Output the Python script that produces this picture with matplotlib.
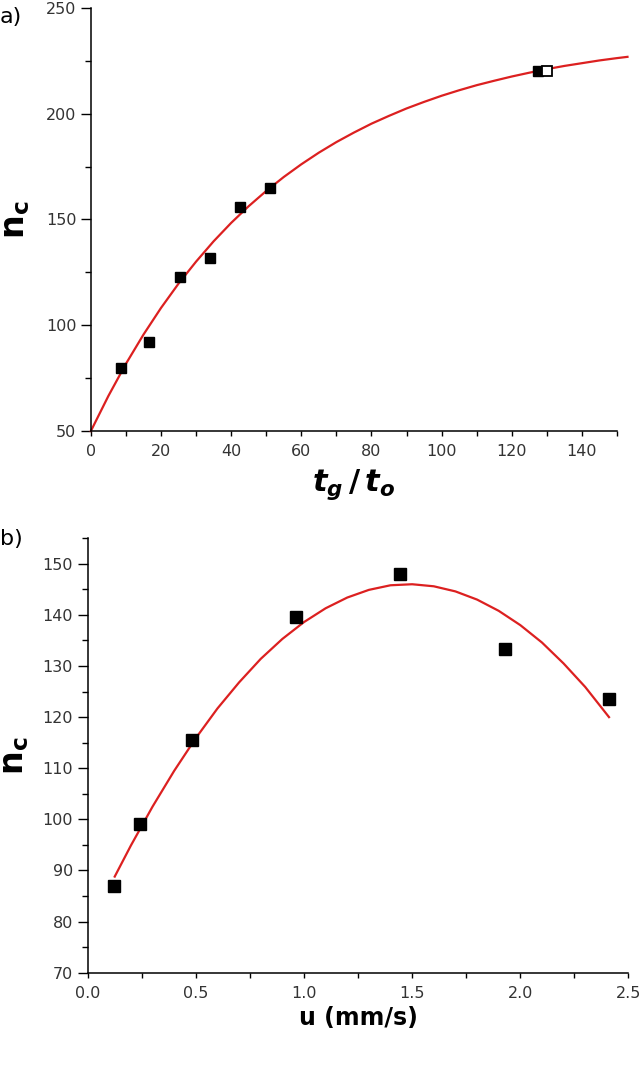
import numpy as np
import matplotlib.pyplot as plt
from matplotlib.ticker import MultipleLocator

plt.rcParams['font.family'] = ['DejaVu Sans']
plt.rcParams['mathtext.fontset'] = 'custom'
plt.rcParams['mathtext.it'] = 'DejaVu Sans:bold:italic'
plt.rcParams['mathtext.bf'] = 'DejaVu Sans:bold'
plt.rcParams['mathtext.rm'] = 'DejaVu Sans:bold'

# panel a: n_c vs t_g/t_o
a_x = [8.5, 16.5, 25.5, 34, 42.5, 51, 127.5]
a_y = [80, 92, 123, 132, 156, 165, 220]
a_open_x = [130]
a_open_y = [220]
# fitted curve
a_fit_x = [0, 5, 10, 15, 20, 25, 30, 35, 40, 45, 50, 55, 60, 65, 70, 75, 80, 85, 90, 95,
           100, 105, 110, 115, 120, 125, 130, 135, 140, 145, 150, 153]
a_fit_y = [50, 66.6, 81.8, 95.6, 108.2, 119.7, 130.1, 139.7, 148.4, 156.3, 163.5, 170.1,
           176.1, 181.6, 186.6, 191.1, 195.3, 199.0, 202.5, 205.6, 208.5, 211.1, 213.5,
           215.6, 217.6, 219.4, 221.1, 222.6, 223.9, 225.2, 226.3, 226.9]

# panel b: n_c vs u
b_x = [0.123, 0.243, 0.484, 0.965, 1.444, 1.927, 2.408]
b_y = [87.0, 99.0, 115.6, 139.5, 148.1, 133.3, 123.5]
b_fit_x = [0.125, 0.2, 0.3, 0.4, 0.5, 0.6, 0.7, 0.8, 0.9, 1.0, 1.1, 1.2, 1.3, 1.4, 1.5,
           1.6, 1.7, 1.8, 1.9, 2.0, 2.1, 2.2, 2.3, 2.41]
b_fit_y = [88.8, 94.9, 102.5, 109.5, 115.9, 121.7, 126.8, 131.4, 135.3, 138.6, 141.3,
           143.4, 144.9, 145.8, 146.0, 145.6, 144.6, 143.0, 140.8, 138.0, 134.6, 130.5,
           125.9, 120.0]

red = '#dc2020'
tick_col = '#333333'

fig = plt.figure(figsize=(6.4, 10.65), dpi=100)
ax1 = fig.add_axes([0.142, 0.5953, 0.822, 0.3972])
ax2 = fig.add_axes([0.137, 0.0867, 0.845, 0.4079])


def style(ax):
    for s in ['top', 'right']:
        ax.spines[s].set_visible(False)
    for s in ['left', 'bottom']:
        ax.spines[s].set_linewidth(1.1)
    ax.tick_params(which='both', direction='out', width=1.0, labelsize=11.5,
                   labelcolor=tick_col)
    ax.tick_params(axis='y', which='major', length=7)
    ax.tick_params(axis='y', which='minor', length=4.5)
    ax.tick_params(axis='x', which='both', length=3.5, pad=6)


# top
ax1.plot(a_fit_x, a_fit_y, color=red, lw=1.6, clip_on=False, zorder=2,
         solid_joinstyle='round')
ax1.plot(a_x, a_y, 's', color='black', ms=7, zorder=3)
ax1.plot(a_open_x, a_open_y, 's', mfc='white', mec='black', mew=1.3, ms=7, zorder=4)
ax1.set_xlim(0, 150)
ax1.set_ylim(50, 250)
ax1.xaxis.set_major_locator(MultipleLocator(20))
ax1.xaxis.set_minor_locator(MultipleLocator(10))
ax1.yaxis.set_major_locator(MultipleLocator(50))
ax1.yaxis.set_minor_locator(MultipleLocator(25))
style(ax1)
ax1.set_xlabel(r'$t_g\,/\,t_o$', fontsize=22, labelpad=6)
ax1.set_ylabel(r'$\mathbf{n_c}$', fontsize=24, labelpad=10)
fig.text(0.0, 0.993, 'a)', fontsize=16, va='top', ha='left')

# bottom
ax2.plot(b_fit_x, b_fit_y, color=red, lw=1.6, zorder=2, solid_joinstyle='round')
ax2.plot(b_x, b_y, 's', color='black', ms=8, zorder=3)
ax2.set_xlim(0, 2.5)
ax2.set_ylim(70, 155)
ax2.xaxis.set_major_locator(MultipleLocator(0.5))
ax2.xaxis.set_minor_locator(MultipleLocator(0.25))
ax2.yaxis.set_major_locator(MultipleLocator(10))
ax2.yaxis.set_minor_locator(MultipleLocator(5))
ax2.set_xticks([0, 0.5, 1.0, 1.5, 2.0, 2.5])
ax2.set_xticklabels(['0.0', '0.5', '1.0', '1.5', '2.0', '2.5'])
style(ax2)
ax2.set_xlabel('u (mm/s)', fontsize=17, fontweight='bold', labelpad=4)
ax2.set_ylabel(r'$\mathbf{n_c}$', fontsize=24, labelpad=8)
fig.text(0.0, 0.503, 'b)', fontsize=16, va='top', ha='left')

fig.savefig('out.png', dpi=100)
